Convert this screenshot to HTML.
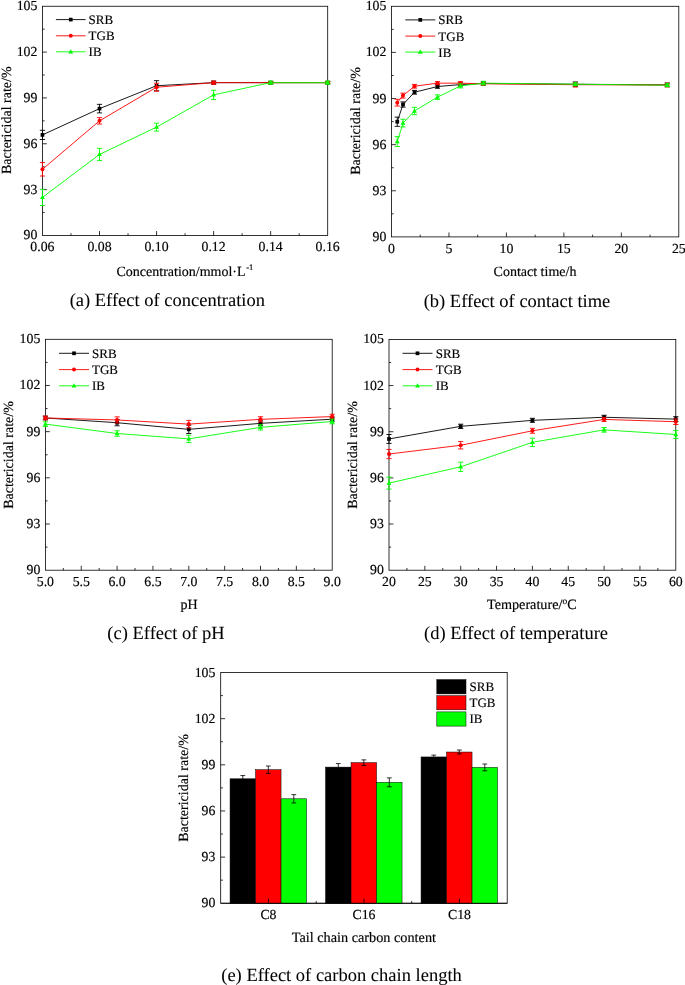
<!DOCTYPE html>
<html lang="en">
<head>
<meta charset="utf-8">
<title>Bactericidal rate figure</title>
<style>
html,body{margin:0;padding:0;background:#fff;}
body{width:685px;height:985px;overflow:hidden;}
svg{display:block;font-family:"Liberation Serif", serif;}
svg text{font-family:"Liberation Serif", serif;text-rendering:geometricPrecision;stroke:#000;stroke-width:0.16px;}
</style>
</head>
<body>
<svg width="685" height="985" viewBox="0 0 685 985">
<rect x="0" y="0" width="685" height="985" fill="#ffffff"/>
<rect x="42.45" y="6.25" width="285.25" height="229.2" fill="none" stroke="#000000" stroke-width="0.8"/>
<text x="37.35" y="239.45" font-size="13.8" text-anchor="end" fill="#000">90</text>
<line x1="42.45" y1="189.61" x2="46.85" y2="189.61" stroke="#000000" stroke-width="0.8"/>
<text x="37.35" y="193.61" font-size="13.8" text-anchor="end" fill="#000">93</text>
<line x1="42.45" y1="143.77" x2="46.85" y2="143.77" stroke="#000000" stroke-width="0.8"/>
<text x="37.35" y="147.77" font-size="13.8" text-anchor="end" fill="#000">96</text>
<line x1="42.45" y1="97.93" x2="46.85" y2="97.93" stroke="#000000" stroke-width="0.8"/>
<text x="37.35" y="101.93" font-size="13.8" text-anchor="end" fill="#000">99</text>
<line x1="42.45" y1="52.09" x2="46.85" y2="52.09" stroke="#000000" stroke-width="0.8"/>
<text x="37.35" y="56.09" font-size="13.8" text-anchor="end" fill="#000">102</text>
<text x="37.35" y="10.25" font-size="13.8" text-anchor="end" fill="#000">105</text>
<line x1="42.45" y1="212.53" x2="44.65" y2="212.53" stroke="#000000" stroke-width="0.8"/>
<line x1="42.45" y1="166.69" x2="44.65" y2="166.69" stroke="#000000" stroke-width="0.8"/>
<line x1="42.45" y1="120.85" x2="44.65" y2="120.85" stroke="#000000" stroke-width="0.8"/>
<line x1="42.45" y1="75.01" x2="44.65" y2="75.01" stroke="#000000" stroke-width="0.8"/>
<line x1="42.45" y1="29.17" x2="44.65" y2="29.17" stroke="#000000" stroke-width="0.8"/>
<line x1="99.5" y1="235.45" x2="99.5" y2="231.05" stroke="#000000" stroke-width="0.8"/>
<line x1="156.55" y1="235.45" x2="156.55" y2="231.05" stroke="#000000" stroke-width="0.8"/>
<line x1="213.6" y1="235.45" x2="213.6" y2="231.05" stroke="#000000" stroke-width="0.8"/>
<line x1="270.65" y1="235.45" x2="270.65" y2="231.05" stroke="#000000" stroke-width="0.8"/>
<line x1="70.98" y1="235.45" x2="70.98" y2="233.25" stroke="#000000" stroke-width="0.8"/>
<line x1="128.03" y1="235.45" x2="128.03" y2="233.25" stroke="#000000" stroke-width="0.8"/>
<line x1="185.07" y1="235.45" x2="185.07" y2="233.25" stroke="#000000" stroke-width="0.8"/>
<line x1="242.12" y1="235.45" x2="242.12" y2="233.25" stroke="#000000" stroke-width="0.8"/>
<line x1="299.17" y1="235.45" x2="299.17" y2="233.25" stroke="#000000" stroke-width="0.8"/>
<text x="42.45" y="251.25" font-size="13.8" text-anchor="middle" fill="#000">0.06</text>
<text x="99.5" y="251.25" font-size="13.8" text-anchor="middle" fill="#000">0.08</text>
<text x="156.55" y="251.25" font-size="13.8" text-anchor="middle" fill="#000">0.10</text>
<text x="213.6" y="251.25" font-size="13.8" text-anchor="middle" fill="#000">0.12</text>
<text x="270.65" y="251.25" font-size="13.8" text-anchor="middle" fill="#000">0.14</text>
<text x="327.7" y="251.25" font-size="13.8" text-anchor="middle" fill="#000">0.16</text>
<text transform="translate(10.6,120.2) rotate(-90)" font-size="14" text-anchor="middle" fill="#000">Bactericidal rate/%</text>
<g>
<polyline points="42.45,134.91 99.5,108.63 156.55,85.71 213.6,82.65 270.65,82.65 327.7,82.65" fill="none" stroke="#000000" stroke-width="0.9" stroke-linejoin="round"/>
<line x1="42.45" y1="130.32" x2="42.45" y2="139.49" stroke="#000000" stroke-width="0.9"/>
<line x1="39.85" y1="130.32" x2="45.05" y2="130.32" stroke="#000000" stroke-width="0.9"/>
<line x1="39.85" y1="139.49" x2="45.05" y2="139.49" stroke="#000000" stroke-width="0.9"/>
<line x1="99.5" y1="104.35" x2="99.5" y2="112.9" stroke="#000000" stroke-width="0.9"/>
<line x1="96.9" y1="104.35" x2="102.1" y2="104.35" stroke="#000000" stroke-width="0.9"/>
<line x1="96.9" y1="112.9" x2="102.1" y2="112.9" stroke="#000000" stroke-width="0.9"/>
<line x1="156.55" y1="80.66" x2="156.55" y2="90.75" stroke="#000000" stroke-width="0.9"/>
<line x1="153.95" y1="80.66" x2="159.15" y2="80.66" stroke="#000000" stroke-width="0.9"/>
<line x1="153.95" y1="90.75" x2="159.15" y2="90.75" stroke="#000000" stroke-width="0.9"/>
<line x1="213.6" y1="81.12" x2="213.6" y2="84.18" stroke="#000000" stroke-width="0.9"/>
<line x1="211" y1="81.12" x2="216.2" y2="81.12" stroke="#000000" stroke-width="0.9"/>
<line x1="211" y1="84.18" x2="216.2" y2="84.18" stroke="#000000" stroke-width="0.9"/>
<line x1="270.65" y1="81.43" x2="270.65" y2="83.87" stroke="#000000" stroke-width="0.9"/>
<line x1="268.05" y1="81.43" x2="273.25" y2="81.43" stroke="#000000" stroke-width="0.9"/>
<line x1="268.05" y1="83.87" x2="273.25" y2="83.87" stroke="#000000" stroke-width="0.9"/>
<line x1="327.7" y1="81.43" x2="327.7" y2="83.87" stroke="#000000" stroke-width="0.9"/>
<line x1="325.1" y1="81.43" x2="330.3" y2="81.43" stroke="#000000" stroke-width="0.9"/>
<line x1="325.1" y1="83.87" x2="330.3" y2="83.87" stroke="#000000" stroke-width="0.9"/>
<rect x="40.6" y="133.06" width="3.7" height="3.7" fill="#000000"/>
<rect x="97.65" y="106.78" width="3.7" height="3.7" fill="#000000"/>
<rect x="154.7" y="83.86" width="3.7" height="3.7" fill="#000000"/>
<rect x="211.75" y="80.8" width="3.7" height="3.7" fill="#000000"/>
<rect x="268.8" y="80.8" width="3.7" height="3.7" fill="#000000"/>
<rect x="325.85" y="80.8" width="3.7" height="3.7" fill="#000000"/>
<polyline points="42.45,169.29 99.5,120.85 156.55,87.23 213.6,82.65 270.65,82.65 327.7,82.65" fill="none" stroke="#ff0000" stroke-width="0.9" stroke-linejoin="round"/>
<line x1="42.45" y1="162.56" x2="42.45" y2="176.01" stroke="#ff0000" stroke-width="0.9"/>
<line x1="39.85" y1="162.56" x2="45.05" y2="162.56" stroke="#ff0000" stroke-width="0.9"/>
<line x1="39.85" y1="176.01" x2="45.05" y2="176.01" stroke="#ff0000" stroke-width="0.9"/>
<line x1="99.5" y1="117.64" x2="99.5" y2="124.06" stroke="#ff0000" stroke-width="0.9"/>
<line x1="96.9" y1="117.64" x2="102.1" y2="117.64" stroke="#ff0000" stroke-width="0.9"/>
<line x1="96.9" y1="124.06" x2="102.1" y2="124.06" stroke="#ff0000" stroke-width="0.9"/>
<line x1="156.55" y1="83.26" x2="156.55" y2="91.21" stroke="#ff0000" stroke-width="0.9"/>
<line x1="153.95" y1="83.26" x2="159.15" y2="83.26" stroke="#ff0000" stroke-width="0.9"/>
<line x1="153.95" y1="91.21" x2="159.15" y2="91.21" stroke="#ff0000" stroke-width="0.9"/>
<line x1="213.6" y1="81.12" x2="213.6" y2="84.18" stroke="#ff0000" stroke-width="0.9"/>
<line x1="211" y1="81.12" x2="216.2" y2="81.12" stroke="#ff0000" stroke-width="0.9"/>
<line x1="211" y1="84.18" x2="216.2" y2="84.18" stroke="#ff0000" stroke-width="0.9"/>
<line x1="270.65" y1="81.43" x2="270.65" y2="83.87" stroke="#ff0000" stroke-width="0.9"/>
<line x1="268.05" y1="81.43" x2="273.25" y2="81.43" stroke="#ff0000" stroke-width="0.9"/>
<line x1="268.05" y1="83.87" x2="273.25" y2="83.87" stroke="#ff0000" stroke-width="0.9"/>
<line x1="327.7" y1="81.43" x2="327.7" y2="83.87" stroke="#ff0000" stroke-width="0.9"/>
<line x1="325.1" y1="81.43" x2="330.3" y2="81.43" stroke="#ff0000" stroke-width="0.9"/>
<line x1="325.1" y1="83.87" x2="330.3" y2="83.87" stroke="#ff0000" stroke-width="0.9"/>
<circle cx="42.45" cy="169.29" r="2.0" fill="#ff0000"/>
<circle cx="99.5" cy="120.85" r="2.0" fill="#ff0000"/>
<circle cx="156.55" cy="87.23" r="2.0" fill="#ff0000"/>
<circle cx="213.6" cy="82.65" r="2.0" fill="#ff0000"/>
<circle cx="270.65" cy="82.65" r="2.0" fill="#ff0000"/>
<circle cx="327.7" cy="82.65" r="2.0" fill="#ff0000"/>
<polyline points="42.45,197.4 99.5,154.47 156.55,127.11 213.6,94.87 270.65,82.65 327.7,82.65" fill="none" stroke="#00ff00" stroke-width="0.9" stroke-linejoin="round"/>
<line x1="42.45" y1="189.3" x2="42.45" y2="205.5" stroke="#00ff00" stroke-width="0.9"/>
<line x1="39.85" y1="189.3" x2="45.05" y2="189.3" stroke="#00ff00" stroke-width="0.9"/>
<line x1="39.85" y1="205.5" x2="45.05" y2="205.5" stroke="#00ff00" stroke-width="0.9"/>
<line x1="99.5" y1="148.35" x2="99.5" y2="160.58" stroke="#00ff00" stroke-width="0.9"/>
<line x1="96.9" y1="148.35" x2="102.1" y2="148.35" stroke="#00ff00" stroke-width="0.9"/>
<line x1="96.9" y1="160.58" x2="102.1" y2="160.58" stroke="#00ff00" stroke-width="0.9"/>
<line x1="156.55" y1="123.14" x2="156.55" y2="131.09" stroke="#00ff00" stroke-width="0.9"/>
<line x1="153.95" y1="123.14" x2="159.15" y2="123.14" stroke="#00ff00" stroke-width="0.9"/>
<line x1="153.95" y1="131.09" x2="159.15" y2="131.09" stroke="#00ff00" stroke-width="0.9"/>
<line x1="213.6" y1="90.29" x2="213.6" y2="99.46" stroke="#00ff00" stroke-width="0.9"/>
<line x1="211" y1="90.29" x2="216.2" y2="90.29" stroke="#00ff00" stroke-width="0.9"/>
<line x1="211" y1="99.46" x2="216.2" y2="99.46" stroke="#00ff00" stroke-width="0.9"/>
<line x1="270.65" y1="81.12" x2="270.65" y2="84.18" stroke="#00ff00" stroke-width="0.9"/>
<line x1="268.05" y1="81.12" x2="273.25" y2="81.12" stroke="#00ff00" stroke-width="0.9"/>
<line x1="268.05" y1="84.18" x2="273.25" y2="84.18" stroke="#00ff00" stroke-width="0.9"/>
<line x1="327.7" y1="81.12" x2="327.7" y2="84.18" stroke="#00ff00" stroke-width="0.9"/>
<line x1="325.1" y1="81.12" x2="330.3" y2="81.12" stroke="#00ff00" stroke-width="0.9"/>
<line x1="325.1" y1="84.18" x2="330.3" y2="84.18" stroke="#00ff00" stroke-width="0.9"/>
<polygon points="42.45,194.75 44.9,199.05 40,199.05" fill="#00ff00"/>
<polygon points="99.5,151.82 101.95,156.12 97.05,156.12" fill="#00ff00"/>
<polygon points="156.55,124.46 159,128.76 154.1,128.76" fill="#00ff00"/>
<polygon points="213.6,92.22 216.05,96.52 211.15,96.52" fill="#00ff00"/>
<polygon points="270.65,80 273.1,84.3 268.2,84.3" fill="#00ff00"/>
<polygon points="327.7,80 330.15,84.3 325.25,84.3" fill="#00ff00"/>
</g>
<line x1="55.9" y1="19.6" x2="85.6" y2="19.6" stroke="#000000" stroke-width="0.9"/>
<rect x="68.9" y="17.75" width="3.7" height="3.7" fill="#000000"/>
<text x="88.6" y="24" font-size="13" text-anchor="start" fill="#000">SRB</text>
<line x1="55.9" y1="35.8" x2="85.6" y2="35.8" stroke="#ff0000" stroke-width="0.9"/>
<circle cx="70.75" cy="35.8" r="2.0" fill="#ff0000"/>
<text x="88.6" y="40.2" font-size="13" text-anchor="start" fill="#000">TGB</text>
<line x1="55.9" y1="51.8" x2="85.6" y2="51.8" stroke="#00ff00" stroke-width="0.9"/>
<polygon points="70.75,49.15 73.2,53.45 68.3,53.45" fill="#00ff00"/>
<text x="88.6" y="56.2" font-size="13" text-anchor="start" fill="#000">IB</text>
<text x="116.5" y="276.3" font-size="14" fill="#000">Concentration/mmol·L<tspan font-size="8.5" dy="-6" dx="0.6">-1</tspan></text>
<text x="167.3" y="306.2" font-size="18.5" text-anchor="middle" fill="#000" style="stroke-width:0.06px">(a) Effect of concentration</text>
<rect x="391.5" y="6.3" width="287.3" height="230.6" fill="none" stroke="#000000" stroke-width="0.8"/>
<text x="386.4" y="240.9" font-size="13.8" text-anchor="end" fill="#000">90</text>
<line x1="391.5" y1="190.78" x2="395.9" y2="190.78" stroke="#000000" stroke-width="0.8"/>
<text x="386.4" y="194.78" font-size="13.8" text-anchor="end" fill="#000">93</text>
<line x1="391.5" y1="144.66" x2="395.9" y2="144.66" stroke="#000000" stroke-width="0.8"/>
<text x="386.4" y="148.66" font-size="13.8" text-anchor="end" fill="#000">96</text>
<line x1="391.5" y1="98.54" x2="395.9" y2="98.54" stroke="#000000" stroke-width="0.8"/>
<text x="386.4" y="102.54" font-size="13.8" text-anchor="end" fill="#000">99</text>
<line x1="391.5" y1="52.42" x2="395.9" y2="52.42" stroke="#000000" stroke-width="0.8"/>
<text x="386.4" y="56.42" font-size="13.8" text-anchor="end" fill="#000">102</text>
<text x="386.4" y="10.3" font-size="13.8" text-anchor="end" fill="#000">105</text>
<line x1="391.5" y1="213.84" x2="393.7" y2="213.84" stroke="#000000" stroke-width="0.8"/>
<line x1="391.5" y1="167.72" x2="393.7" y2="167.72" stroke="#000000" stroke-width="0.8"/>
<line x1="391.5" y1="121.6" x2="393.7" y2="121.6" stroke="#000000" stroke-width="0.8"/>
<line x1="391.5" y1="75.48" x2="393.7" y2="75.48" stroke="#000000" stroke-width="0.8"/>
<line x1="391.5" y1="29.36" x2="393.7" y2="29.36" stroke="#000000" stroke-width="0.8"/>
<line x1="448.96" y1="236.9" x2="448.96" y2="232.5" stroke="#000000" stroke-width="0.8"/>
<line x1="506.42" y1="236.9" x2="506.42" y2="232.5" stroke="#000000" stroke-width="0.8"/>
<line x1="563.88" y1="236.9" x2="563.88" y2="232.5" stroke="#000000" stroke-width="0.8"/>
<line x1="621.34" y1="236.9" x2="621.34" y2="232.5" stroke="#000000" stroke-width="0.8"/>
<line x1="420.23" y1="236.9" x2="420.23" y2="234.7" stroke="#000000" stroke-width="0.8"/>
<line x1="477.69" y1="236.9" x2="477.69" y2="234.7" stroke="#000000" stroke-width="0.8"/>
<line x1="535.15" y1="236.9" x2="535.15" y2="234.7" stroke="#000000" stroke-width="0.8"/>
<line x1="592.61" y1="236.9" x2="592.61" y2="234.7" stroke="#000000" stroke-width="0.8"/>
<line x1="650.07" y1="236.9" x2="650.07" y2="234.7" stroke="#000000" stroke-width="0.8"/>
<text x="391.5" y="252.7" font-size="13.8" text-anchor="middle" fill="#000">0</text>
<text x="448.96" y="252.7" font-size="13.8" text-anchor="middle" fill="#000">5</text>
<text x="506.42" y="252.7" font-size="13.8" text-anchor="middle" fill="#000">10</text>
<text x="563.88" y="252.7" font-size="13.8" text-anchor="middle" fill="#000">15</text>
<text x="621.34" y="252.7" font-size="13.8" text-anchor="middle" fill="#000">20</text>
<text x="678.8" y="252.7" font-size="13.8" text-anchor="middle" fill="#000">25</text>
<text transform="translate(360,121) rotate(-90)" font-size="14" text-anchor="middle" fill="#000">Bactericidal rate/%</text>
<polyline points="397.25,121.75 402.99,104.54 414.48,92.24 437.47,86.55 460.45,84.55 483.44,83.47 575.37,84.24 667.31,84.86" fill="none" stroke="#000000" stroke-width="0.9" stroke-linejoin="round"/>
<line x1="397.25" y1="117.14" x2="397.25" y2="126.37" stroke="#000000" stroke-width="0.9"/>
<line x1="394.65" y1="117.14" x2="399.85" y2="117.14" stroke="#000000" stroke-width="0.9"/>
<line x1="394.65" y1="126.37" x2="399.85" y2="126.37" stroke="#000000" stroke-width="0.9"/>
<line x1="402.99" y1="101.92" x2="402.99" y2="107.15" stroke="#000000" stroke-width="0.9"/>
<line x1="400.39" y1="101.92" x2="405.59" y2="101.92" stroke="#000000" stroke-width="0.9"/>
<line x1="400.39" y1="107.15" x2="405.59" y2="107.15" stroke="#000000" stroke-width="0.9"/>
<line x1="414.48" y1="90.39" x2="414.48" y2="94.08" stroke="#000000" stroke-width="0.9"/>
<line x1="411.88" y1="90.39" x2="417.08" y2="90.39" stroke="#000000" stroke-width="0.9"/>
<line x1="411.88" y1="94.08" x2="417.08" y2="94.08" stroke="#000000" stroke-width="0.9"/>
<line x1="437.47" y1="84.86" x2="437.47" y2="88.24" stroke="#000000" stroke-width="0.9"/>
<line x1="434.87" y1="84.86" x2="440.07" y2="84.86" stroke="#000000" stroke-width="0.9"/>
<line x1="434.87" y1="88.24" x2="440.07" y2="88.24" stroke="#000000" stroke-width="0.9"/>
<line x1="460.45" y1="83.01" x2="460.45" y2="86.09" stroke="#000000" stroke-width="0.9"/>
<line x1="457.85" y1="83.01" x2="463.05" y2="83.01" stroke="#000000" stroke-width="0.9"/>
<line x1="457.85" y1="86.09" x2="463.05" y2="86.09" stroke="#000000" stroke-width="0.9"/>
<line x1="483.44" y1="81.94" x2="483.44" y2="85.01" stroke="#000000" stroke-width="0.9"/>
<line x1="480.84" y1="81.94" x2="486.04" y2="81.94" stroke="#000000" stroke-width="0.9"/>
<line x1="480.84" y1="85.01" x2="486.04" y2="85.01" stroke="#000000" stroke-width="0.9"/>
<line x1="575.37" y1="81.94" x2="575.37" y2="86.55" stroke="#000000" stroke-width="0.9"/>
<line x1="572.77" y1="81.94" x2="577.97" y2="81.94" stroke="#000000" stroke-width="0.9"/>
<line x1="572.77" y1="86.55" x2="577.97" y2="86.55" stroke="#000000" stroke-width="0.9"/>
<line x1="667.31" y1="83.01" x2="667.31" y2="86.7" stroke="#000000" stroke-width="0.9"/>
<line x1="664.71" y1="83.01" x2="669.91" y2="83.01" stroke="#000000" stroke-width="0.9"/>
<line x1="664.71" y1="86.7" x2="669.91" y2="86.7" stroke="#000000" stroke-width="0.9"/>
<rect x="395.4" y="119.9" width="3.7" height="3.7" fill="#000000"/>
<rect x="401.14" y="102.69" width="3.7" height="3.7" fill="#000000"/>
<rect x="412.63" y="90.39" width="3.7" height="3.7" fill="#000000"/>
<rect x="435.62" y="84.7" width="3.7" height="3.7" fill="#000000"/>
<rect x="458.6" y="82.7" width="3.7" height="3.7" fill="#000000"/>
<rect x="481.59" y="81.62" width="3.7" height="3.7" fill="#000000"/>
<rect x="573.52" y="82.39" width="3.7" height="3.7" fill="#000000"/>
<rect x="665.46" y="83.01" width="3.7" height="3.7" fill="#000000"/>
<polyline points="397.25,102.69 402.99,95.62 414.48,86.24 437.47,83.17 460.45,83.17 483.44,83.78 575.37,84.7 667.31,85.01" fill="none" stroke="#ff0000" stroke-width="0.9" stroke-linejoin="round"/>
<line x1="397.25" y1="99.31" x2="397.25" y2="106.07" stroke="#ff0000" stroke-width="0.9"/>
<line x1="394.65" y1="99.31" x2="399.85" y2="99.31" stroke="#ff0000" stroke-width="0.9"/>
<line x1="394.65" y1="106.07" x2="399.85" y2="106.07" stroke="#ff0000" stroke-width="0.9"/>
<line x1="402.99" y1="93.16" x2="402.99" y2="98.08" stroke="#ff0000" stroke-width="0.9"/>
<line x1="400.39" y1="93.16" x2="405.59" y2="93.16" stroke="#ff0000" stroke-width="0.9"/>
<line x1="400.39" y1="98.08" x2="405.59" y2="98.08" stroke="#ff0000" stroke-width="0.9"/>
<line x1="414.48" y1="84.4" x2="414.48" y2="88.09" stroke="#ff0000" stroke-width="0.9"/>
<line x1="411.88" y1="84.4" x2="417.08" y2="84.4" stroke="#ff0000" stroke-width="0.9"/>
<line x1="411.88" y1="88.09" x2="417.08" y2="88.09" stroke="#ff0000" stroke-width="0.9"/>
<line x1="437.47" y1="81.63" x2="437.47" y2="84.7" stroke="#ff0000" stroke-width="0.9"/>
<line x1="434.87" y1="81.63" x2="440.07" y2="81.63" stroke="#ff0000" stroke-width="0.9"/>
<line x1="434.87" y1="84.7" x2="440.07" y2="84.7" stroke="#ff0000" stroke-width="0.9"/>
<line x1="460.45" y1="81.63" x2="460.45" y2="84.7" stroke="#ff0000" stroke-width="0.9"/>
<line x1="457.85" y1="81.63" x2="463.05" y2="81.63" stroke="#ff0000" stroke-width="0.9"/>
<line x1="457.85" y1="84.7" x2="463.05" y2="84.7" stroke="#ff0000" stroke-width="0.9"/>
<line x1="483.44" y1="82.24" x2="483.44" y2="85.32" stroke="#ff0000" stroke-width="0.9"/>
<line x1="480.84" y1="82.24" x2="486.04" y2="82.24" stroke="#ff0000" stroke-width="0.9"/>
<line x1="480.84" y1="85.32" x2="486.04" y2="85.32" stroke="#ff0000" stroke-width="0.9"/>
<line x1="575.37" y1="82.4" x2="575.37" y2="87.01" stroke="#ff0000" stroke-width="0.9"/>
<line x1="572.77" y1="82.4" x2="577.97" y2="82.4" stroke="#ff0000" stroke-width="0.9"/>
<line x1="572.77" y1="87.01" x2="577.97" y2="87.01" stroke="#ff0000" stroke-width="0.9"/>
<line x1="667.31" y1="83.17" x2="667.31" y2="86.86" stroke="#ff0000" stroke-width="0.9"/>
<line x1="664.71" y1="83.17" x2="669.91" y2="83.17" stroke="#ff0000" stroke-width="0.9"/>
<line x1="664.71" y1="86.86" x2="669.91" y2="86.86" stroke="#ff0000" stroke-width="0.9"/>
<circle cx="397.25" cy="102.69" r="2.0" fill="#ff0000"/>
<circle cx="402.99" cy="95.62" r="2.0" fill="#ff0000"/>
<circle cx="414.48" cy="86.24" r="2.0" fill="#ff0000"/>
<circle cx="437.47" cy="83.17" r="2.0" fill="#ff0000"/>
<circle cx="460.45" cy="83.17" r="2.0" fill="#ff0000"/>
<circle cx="483.44" cy="83.78" r="2.0" fill="#ff0000"/>
<circle cx="575.37" cy="84.7" r="2.0" fill="#ff0000"/>
<circle cx="667.31" cy="85.01" r="2.0" fill="#ff0000"/>
<polyline points="397.25,141.59 402.99,123.14 414.48,110.99 437.47,97.16 460.45,85.93 483.44,83.17 575.37,84.24 667.31,85.17" fill="none" stroke="#00ff00" stroke-width="0.9" stroke-linejoin="round"/>
<line x1="397.25" y1="136.67" x2="397.25" y2="146.5" stroke="#00ff00" stroke-width="0.9"/>
<line x1="394.65" y1="136.67" x2="399.85" y2="136.67" stroke="#00ff00" stroke-width="0.9"/>
<line x1="394.65" y1="146.5" x2="399.85" y2="146.5" stroke="#00ff00" stroke-width="0.9"/>
<line x1="402.99" y1="119.29" x2="402.99" y2="126.98" stroke="#00ff00" stroke-width="0.9"/>
<line x1="400.39" y1="119.29" x2="405.59" y2="119.29" stroke="#00ff00" stroke-width="0.9"/>
<line x1="400.39" y1="126.98" x2="405.59" y2="126.98" stroke="#00ff00" stroke-width="0.9"/>
<line x1="414.48" y1="107.3" x2="414.48" y2="114.68" stroke="#00ff00" stroke-width="0.9"/>
<line x1="411.88" y1="107.3" x2="417.08" y2="107.3" stroke="#00ff00" stroke-width="0.9"/>
<line x1="411.88" y1="114.68" x2="417.08" y2="114.68" stroke="#00ff00" stroke-width="0.9"/>
<line x1="437.47" y1="94.85" x2="437.47" y2="99.46" stroke="#00ff00" stroke-width="0.9"/>
<line x1="434.87" y1="94.85" x2="440.07" y2="94.85" stroke="#00ff00" stroke-width="0.9"/>
<line x1="434.87" y1="99.46" x2="440.07" y2="99.46" stroke="#00ff00" stroke-width="0.9"/>
<line x1="460.45" y1="83.94" x2="460.45" y2="87.93" stroke="#00ff00" stroke-width="0.9"/>
<line x1="457.85" y1="83.94" x2="463.05" y2="83.94" stroke="#00ff00" stroke-width="0.9"/>
<line x1="457.85" y1="87.93" x2="463.05" y2="87.93" stroke="#00ff00" stroke-width="0.9"/>
<line x1="483.44" y1="81.32" x2="483.44" y2="85.01" stroke="#00ff00" stroke-width="0.9"/>
<line x1="480.84" y1="81.32" x2="486.04" y2="81.32" stroke="#00ff00" stroke-width="0.9"/>
<line x1="480.84" y1="85.01" x2="486.04" y2="85.01" stroke="#00ff00" stroke-width="0.9"/>
<line x1="575.37" y1="82.71" x2="575.37" y2="85.78" stroke="#00ff00" stroke-width="0.9"/>
<line x1="572.77" y1="82.71" x2="577.97" y2="82.71" stroke="#00ff00" stroke-width="0.9"/>
<line x1="572.77" y1="85.78" x2="577.97" y2="85.78" stroke="#00ff00" stroke-width="0.9"/>
<line x1="667.31" y1="83.63" x2="667.31" y2="86.7" stroke="#00ff00" stroke-width="0.9"/>
<line x1="664.71" y1="83.63" x2="669.91" y2="83.63" stroke="#00ff00" stroke-width="0.9"/>
<line x1="664.71" y1="86.7" x2="669.91" y2="86.7" stroke="#00ff00" stroke-width="0.9"/>
<polygon points="397.25,138.94 399.7,143.24 394.8,143.24" fill="#00ff00"/>
<polygon points="402.99,120.49 405.44,124.79 400.54,124.79" fill="#00ff00"/>
<polygon points="414.48,108.34 416.93,112.64 412.03,112.64" fill="#00ff00"/>
<polygon points="437.47,94.51 439.92,98.81 435.02,98.81" fill="#00ff00"/>
<polygon points="460.45,83.28 462.9,87.58 458,87.58" fill="#00ff00"/>
<polygon points="483.44,80.52 485.89,84.82 480.99,84.82" fill="#00ff00"/>
<polygon points="575.37,81.59 577.82,85.89 572.92,85.89" fill="#00ff00"/>
<polygon points="667.31,82.52 669.76,86.82 664.86,86.82" fill="#00ff00"/>
<line x1="405.3" y1="19.9" x2="435.3" y2="19.9" stroke="#000000" stroke-width="0.9"/>
<rect x="418.45" y="18.05" width="3.7" height="3.7" fill="#000000"/>
<text x="438.3" y="24.3" font-size="13" text-anchor="start" fill="#000">SRB</text>
<line x1="405.3" y1="36.1" x2="435.3" y2="36.1" stroke="#ff0000" stroke-width="0.9"/>
<circle cx="420.3" cy="36.1" r="2.0" fill="#ff0000"/>
<text x="438.3" y="40.5" font-size="13" text-anchor="start" fill="#000">TGB</text>
<line x1="405.3" y1="52.1" x2="435.3" y2="52.1" stroke="#00ff00" stroke-width="0.9"/>
<polygon points="420.3,49.45 422.75,53.75 417.85,53.75" fill="#00ff00"/>
<text x="438.3" y="56.5" font-size="13" text-anchor="start" fill="#000">IB</text>
<text x="535" y="275.9" font-size="14" text-anchor="middle" fill="#000">Contact time/h</text>
<text x="517" y="306.5" font-size="18.5" text-anchor="middle" fill="#000" style="stroke-width:0.06px">(b) Effect of contact time</text>
<rect x="45.4" y="339.3" width="286.8" height="230.9" fill="none" stroke="#000000" stroke-width="0.8"/>
<text x="40.3" y="574.2" font-size="13.8" text-anchor="end" fill="#000">90</text>
<line x1="45.4" y1="524.02" x2="49.8" y2="524.02" stroke="#000000" stroke-width="0.8"/>
<text x="40.3" y="528.02" font-size="13.8" text-anchor="end" fill="#000">93</text>
<line x1="45.4" y1="477.84" x2="49.8" y2="477.84" stroke="#000000" stroke-width="0.8"/>
<text x="40.3" y="481.84" font-size="13.8" text-anchor="end" fill="#000">96</text>
<line x1="45.4" y1="431.66" x2="49.8" y2="431.66" stroke="#000000" stroke-width="0.8"/>
<text x="40.3" y="435.66" font-size="13.8" text-anchor="end" fill="#000">99</text>
<line x1="45.4" y1="385.48" x2="49.8" y2="385.48" stroke="#000000" stroke-width="0.8"/>
<text x="40.3" y="389.48" font-size="13.8" text-anchor="end" fill="#000">102</text>
<text x="40.3" y="343.3" font-size="13.8" text-anchor="end" fill="#000">105</text>
<line x1="45.4" y1="547.11" x2="47.6" y2="547.11" stroke="#000000" stroke-width="0.8"/>
<line x1="45.4" y1="500.93" x2="47.6" y2="500.93" stroke="#000000" stroke-width="0.8"/>
<line x1="45.4" y1="454.75" x2="47.6" y2="454.75" stroke="#000000" stroke-width="0.8"/>
<line x1="45.4" y1="408.57" x2="47.6" y2="408.57" stroke="#000000" stroke-width="0.8"/>
<line x1="45.4" y1="362.39" x2="47.6" y2="362.39" stroke="#000000" stroke-width="0.8"/>
<line x1="81.25" y1="570.2" x2="81.25" y2="565.8" stroke="#000000" stroke-width="0.8"/>
<line x1="117.1" y1="570.2" x2="117.1" y2="565.8" stroke="#000000" stroke-width="0.8"/>
<line x1="152.95" y1="570.2" x2="152.95" y2="565.8" stroke="#000000" stroke-width="0.8"/>
<line x1="188.8" y1="570.2" x2="188.8" y2="565.8" stroke="#000000" stroke-width="0.8"/>
<line x1="224.65" y1="570.2" x2="224.65" y2="565.8" stroke="#000000" stroke-width="0.8"/>
<line x1="260.5" y1="570.2" x2="260.5" y2="565.8" stroke="#000000" stroke-width="0.8"/>
<line x1="296.35" y1="570.2" x2="296.35" y2="565.8" stroke="#000000" stroke-width="0.8"/>
<line x1="63.33" y1="570.2" x2="63.33" y2="568" stroke="#000000" stroke-width="0.8"/>
<line x1="99.18" y1="570.2" x2="99.18" y2="568" stroke="#000000" stroke-width="0.8"/>
<line x1="135.03" y1="570.2" x2="135.03" y2="568" stroke="#000000" stroke-width="0.8"/>
<line x1="170.88" y1="570.2" x2="170.88" y2="568" stroke="#000000" stroke-width="0.8"/>
<line x1="206.73" y1="570.2" x2="206.73" y2="568" stroke="#000000" stroke-width="0.8"/>
<line x1="242.58" y1="570.2" x2="242.58" y2="568" stroke="#000000" stroke-width="0.8"/>
<line x1="278.43" y1="570.2" x2="278.43" y2="568" stroke="#000000" stroke-width="0.8"/>
<line x1="314.27" y1="570.2" x2="314.27" y2="568" stroke="#000000" stroke-width="0.8"/>
<text x="45.4" y="586" font-size="13.8" text-anchor="middle" fill="#000">5.0</text>
<text x="81.25" y="586" font-size="13.8" text-anchor="middle" fill="#000">5.5</text>
<text x="117.1" y="586" font-size="13.8" text-anchor="middle" fill="#000">6.0</text>
<text x="152.95" y="586" font-size="13.8" text-anchor="middle" fill="#000">6.5</text>
<text x="188.8" y="586" font-size="13.8" text-anchor="middle" fill="#000">7.0</text>
<text x="224.65" y="586" font-size="13.8" text-anchor="middle" fill="#000">7.5</text>
<text x="260.5" y="586" font-size="13.8" text-anchor="middle" fill="#000">8.0</text>
<text x="296.35" y="586" font-size="13.8" text-anchor="middle" fill="#000">8.5</text>
<text x="332.2" y="586" font-size="13.8" text-anchor="middle" fill="#000">9.0</text>
<text transform="translate(13,455) rotate(-90)" font-size="14" text-anchor="middle" fill="#000">Bactericidal rate/%</text>
<polyline points="45.4,417.96 117.1,422.73 188.8,429.35 260.5,423.35 332.2,419.19" fill="none" stroke="#000000" stroke-width="0.9" stroke-linejoin="round"/>
<line x1="45.4" y1="416.11" x2="45.4" y2="419.81" stroke="#000000" stroke-width="0.9"/>
<line x1="42.8" y1="416.11" x2="48" y2="416.11" stroke="#000000" stroke-width="0.9"/>
<line x1="42.8" y1="419.81" x2="48" y2="419.81" stroke="#000000" stroke-width="0.9"/>
<line x1="117.1" y1="419.65" x2="117.1" y2="425.81" stroke="#000000" stroke-width="0.9"/>
<line x1="114.5" y1="419.65" x2="119.7" y2="419.65" stroke="#000000" stroke-width="0.9"/>
<line x1="114.5" y1="425.81" x2="119.7" y2="425.81" stroke="#000000" stroke-width="0.9"/>
<line x1="188.8" y1="425.19" x2="188.8" y2="433.51" stroke="#000000" stroke-width="0.9"/>
<line x1="186.2" y1="425.19" x2="191.4" y2="425.19" stroke="#000000" stroke-width="0.9"/>
<line x1="186.2" y1="433.51" x2="191.4" y2="433.51" stroke="#000000" stroke-width="0.9"/>
<line x1="260.5" y1="420.88" x2="260.5" y2="425.81" stroke="#000000" stroke-width="0.9"/>
<line x1="257.9" y1="420.88" x2="263.1" y2="420.88" stroke="#000000" stroke-width="0.9"/>
<line x1="257.9" y1="425.81" x2="263.1" y2="425.81" stroke="#000000" stroke-width="0.9"/>
<line x1="332.2" y1="417.19" x2="332.2" y2="421.19" stroke="#000000" stroke-width="0.9"/>
<line x1="329.6" y1="417.19" x2="334.8" y2="417.19" stroke="#000000" stroke-width="0.9"/>
<line x1="329.6" y1="421.19" x2="334.8" y2="421.19" stroke="#000000" stroke-width="0.9"/>
<rect x="43.55" y="416.11" width="3.7" height="3.7" fill="#000000"/>
<rect x="115.25" y="420.88" width="3.7" height="3.7" fill="#000000"/>
<rect x="186.95" y="427.5" width="3.7" height="3.7" fill="#000000"/>
<rect x="258.65" y="421.5" width="3.7" height="3.7" fill="#000000"/>
<rect x="330.35" y="417.34" width="3.7" height="3.7" fill="#000000"/>
<polyline points="45.4,417.96 117.1,419.96 188.8,424.12 260.5,419.35 332.2,416.57" fill="none" stroke="#ff0000" stroke-width="0.9" stroke-linejoin="round"/>
<line x1="45.4" y1="416.11" x2="45.4" y2="419.81" stroke="#ff0000" stroke-width="0.9"/>
<line x1="42.8" y1="416.11" x2="48" y2="416.11" stroke="#ff0000" stroke-width="0.9"/>
<line x1="42.8" y1="419.81" x2="48" y2="419.81" stroke="#ff0000" stroke-width="0.9"/>
<line x1="117.1" y1="416.88" x2="117.1" y2="423.04" stroke="#ff0000" stroke-width="0.9"/>
<line x1="114.5" y1="416.88" x2="119.7" y2="416.88" stroke="#ff0000" stroke-width="0.9"/>
<line x1="114.5" y1="423.04" x2="119.7" y2="423.04" stroke="#ff0000" stroke-width="0.9"/>
<line x1="188.8" y1="420.42" x2="188.8" y2="427.81" stroke="#ff0000" stroke-width="0.9"/>
<line x1="186.2" y1="420.42" x2="191.4" y2="420.42" stroke="#ff0000" stroke-width="0.9"/>
<line x1="186.2" y1="427.81" x2="191.4" y2="427.81" stroke="#ff0000" stroke-width="0.9"/>
<line x1="260.5" y1="416.73" x2="260.5" y2="421.96" stroke="#ff0000" stroke-width="0.9"/>
<line x1="257.9" y1="416.73" x2="263.1" y2="416.73" stroke="#ff0000" stroke-width="0.9"/>
<line x1="257.9" y1="421.96" x2="263.1" y2="421.96" stroke="#ff0000" stroke-width="0.9"/>
<line x1="332.2" y1="414.27" x2="332.2" y2="418.88" stroke="#ff0000" stroke-width="0.9"/>
<line x1="329.6" y1="414.27" x2="334.8" y2="414.27" stroke="#ff0000" stroke-width="0.9"/>
<line x1="329.6" y1="418.88" x2="334.8" y2="418.88" stroke="#ff0000" stroke-width="0.9"/>
<circle cx="45.4" cy="417.96" r="2.0" fill="#ff0000"/>
<circle cx="117.1" cy="419.96" r="2.0" fill="#ff0000"/>
<circle cx="188.8" cy="424.12" r="2.0" fill="#ff0000"/>
<circle cx="260.5" cy="419.35" r="2.0" fill="#ff0000"/>
<circle cx="332.2" cy="416.57" r="2.0" fill="#ff0000"/>
<polyline points="45.4,424.12 117.1,433.51 188.8,438.89 260.5,427.35 332.2,421.5" fill="none" stroke="#00ff00" stroke-width="0.9" stroke-linejoin="round"/>
<line x1="45.4" y1="421.81" x2="45.4" y2="426.43" stroke="#00ff00" stroke-width="0.9"/>
<line x1="42.8" y1="421.81" x2="48" y2="421.81" stroke="#00ff00" stroke-width="0.9"/>
<line x1="42.8" y1="426.43" x2="48" y2="426.43" stroke="#00ff00" stroke-width="0.9"/>
<line x1="117.1" y1="430.74" x2="117.1" y2="436.28" stroke="#00ff00" stroke-width="0.9"/>
<line x1="114.5" y1="430.74" x2="119.7" y2="430.74" stroke="#00ff00" stroke-width="0.9"/>
<line x1="114.5" y1="436.28" x2="119.7" y2="436.28" stroke="#00ff00" stroke-width="0.9"/>
<line x1="188.8" y1="435.2" x2="188.8" y2="442.59" stroke="#00ff00" stroke-width="0.9"/>
<line x1="186.2" y1="435.2" x2="191.4" y2="435.2" stroke="#00ff00" stroke-width="0.9"/>
<line x1="186.2" y1="442.59" x2="191.4" y2="442.59" stroke="#00ff00" stroke-width="0.9"/>
<line x1="260.5" y1="424.73" x2="260.5" y2="429.97" stroke="#00ff00" stroke-width="0.9"/>
<line x1="257.9" y1="424.73" x2="263.1" y2="424.73" stroke="#00ff00" stroke-width="0.9"/>
<line x1="257.9" y1="429.97" x2="263.1" y2="429.97" stroke="#00ff00" stroke-width="0.9"/>
<line x1="332.2" y1="419.19" x2="332.2" y2="423.81" stroke="#00ff00" stroke-width="0.9"/>
<line x1="329.6" y1="419.19" x2="334.8" y2="419.19" stroke="#00ff00" stroke-width="0.9"/>
<line x1="329.6" y1="423.81" x2="334.8" y2="423.81" stroke="#00ff00" stroke-width="0.9"/>
<polygon points="45.4,421.47 47.85,425.77 42.95,425.77" fill="#00ff00"/>
<polygon points="117.1,430.86 119.55,435.16 114.65,435.16" fill="#00ff00"/>
<polygon points="188.8,436.24 191.25,440.54 186.35,440.54" fill="#00ff00"/>
<polygon points="260.5,424.7 262.95,429 258.05,429" fill="#00ff00"/>
<polygon points="332.2,418.85 334.65,423.15 329.75,423.15" fill="#00ff00"/>
<line x1="59" y1="353.3" x2="89" y2="353.3" stroke="#000000" stroke-width="0.9"/>
<rect x="72.15" y="351.45" width="3.7" height="3.7" fill="#000000"/>
<text x="92" y="357.7" font-size="13" text-anchor="start" fill="#000">SRB</text>
<line x1="59" y1="369.6" x2="89" y2="369.6" stroke="#ff0000" stroke-width="0.9"/>
<circle cx="74" cy="369.6" r="2.0" fill="#ff0000"/>
<text x="92" y="374" font-size="13" text-anchor="start" fill="#000">TGB</text>
<line x1="59" y1="385.8" x2="89" y2="385.8" stroke="#00ff00" stroke-width="0.9"/>
<polygon points="74,383.15 76.45,387.45 71.55,387.45" fill="#00ff00"/>
<text x="92" y="390.2" font-size="13" text-anchor="start" fill="#000">IB</text>
<text x="189" y="609" font-size="14" text-anchor="middle" fill="#000">pH</text>
<text x="166" y="639.1" font-size="18.5" text-anchor="middle" fill="#000" style="stroke-width:0.06px">(c) Effect of pH</text>
<rect x="389" y="339.4" width="286.8" height="230.8" fill="none" stroke="#000000" stroke-width="0.8"/>
<text x="383.9" y="574.2" font-size="13.8" text-anchor="end" fill="#000">90</text>
<line x1="389" y1="524.04" x2="393.4" y2="524.04" stroke="#000000" stroke-width="0.8"/>
<text x="383.9" y="528.04" font-size="13.8" text-anchor="end" fill="#000">93</text>
<line x1="389" y1="477.88" x2="393.4" y2="477.88" stroke="#000000" stroke-width="0.8"/>
<text x="383.9" y="481.88" font-size="13.8" text-anchor="end" fill="#000">96</text>
<line x1="389" y1="431.72" x2="393.4" y2="431.72" stroke="#000000" stroke-width="0.8"/>
<text x="383.9" y="435.72" font-size="13.8" text-anchor="end" fill="#000">99</text>
<line x1="389" y1="385.56" x2="393.4" y2="385.56" stroke="#000000" stroke-width="0.8"/>
<text x="383.9" y="389.56" font-size="13.8" text-anchor="end" fill="#000">102</text>
<text x="383.9" y="343.4" font-size="13.8" text-anchor="end" fill="#000">105</text>
<line x1="389" y1="547.12" x2="391.2" y2="547.12" stroke="#000000" stroke-width="0.8"/>
<line x1="389" y1="500.96" x2="391.2" y2="500.96" stroke="#000000" stroke-width="0.8"/>
<line x1="389" y1="454.8" x2="391.2" y2="454.8" stroke="#000000" stroke-width="0.8"/>
<line x1="389" y1="408.64" x2="391.2" y2="408.64" stroke="#000000" stroke-width="0.8"/>
<line x1="389" y1="362.48" x2="391.2" y2="362.48" stroke="#000000" stroke-width="0.8"/>
<line x1="424.85" y1="570.2" x2="424.85" y2="565.8" stroke="#000000" stroke-width="0.8"/>
<line x1="460.7" y1="570.2" x2="460.7" y2="565.8" stroke="#000000" stroke-width="0.8"/>
<line x1="496.55" y1="570.2" x2="496.55" y2="565.8" stroke="#000000" stroke-width="0.8"/>
<line x1="532.4" y1="570.2" x2="532.4" y2="565.8" stroke="#000000" stroke-width="0.8"/>
<line x1="568.25" y1="570.2" x2="568.25" y2="565.8" stroke="#000000" stroke-width="0.8"/>
<line x1="604.1" y1="570.2" x2="604.1" y2="565.8" stroke="#000000" stroke-width="0.8"/>
<line x1="639.95" y1="570.2" x2="639.95" y2="565.8" stroke="#000000" stroke-width="0.8"/>
<line x1="406.93" y1="570.2" x2="406.93" y2="568" stroke="#000000" stroke-width="0.8"/>
<line x1="442.77" y1="570.2" x2="442.77" y2="568" stroke="#000000" stroke-width="0.8"/>
<line x1="478.62" y1="570.2" x2="478.62" y2="568" stroke="#000000" stroke-width="0.8"/>
<line x1="514.48" y1="570.2" x2="514.48" y2="568" stroke="#000000" stroke-width="0.8"/>
<line x1="550.33" y1="570.2" x2="550.33" y2="568" stroke="#000000" stroke-width="0.8"/>
<line x1="586.17" y1="570.2" x2="586.17" y2="568" stroke="#000000" stroke-width="0.8"/>
<line x1="622.02" y1="570.2" x2="622.02" y2="568" stroke="#000000" stroke-width="0.8"/>
<line x1="657.88" y1="570.2" x2="657.88" y2="568" stroke="#000000" stroke-width="0.8"/>
<text x="389" y="586" font-size="13.8" text-anchor="middle" fill="#000">20</text>
<text x="424.85" y="586" font-size="13.8" text-anchor="middle" fill="#000">25</text>
<text x="460.7" y="586" font-size="13.8" text-anchor="middle" fill="#000">30</text>
<text x="496.55" y="586" font-size="13.8" text-anchor="middle" fill="#000">35</text>
<text x="532.4" y="586" font-size="13.8" text-anchor="middle" fill="#000">40</text>
<text x="568.25" y="586" font-size="13.8" text-anchor="middle" fill="#000">45</text>
<text x="604.1" y="586" font-size="13.8" text-anchor="middle" fill="#000">50</text>
<text x="639.95" y="586" font-size="13.8" text-anchor="middle" fill="#000">55</text>
<text x="675.8" y="586" font-size="13.8" text-anchor="middle" fill="#000">60</text>
<text transform="translate(357,455) rotate(-90)" font-size="14" text-anchor="middle" fill="#000">Bactericidal rate/%</text>
<polyline points="389,438.95 460.7,426.33 532.4,420.33 604.1,417.26 675.8,419.1" fill="none" stroke="#000000" stroke-width="0.9" stroke-linejoin="round"/>
<line x1="389" y1="434.49" x2="389" y2="443.41" stroke="#000000" stroke-width="0.9"/>
<line x1="386.4" y1="434.49" x2="391.6" y2="434.49" stroke="#000000" stroke-width="0.9"/>
<line x1="386.4" y1="443.41" x2="391.6" y2="443.41" stroke="#000000" stroke-width="0.9"/>
<line x1="460.7" y1="424.18" x2="460.7" y2="428.49" stroke="#000000" stroke-width="0.9"/>
<line x1="458.1" y1="424.18" x2="463.3" y2="424.18" stroke="#000000" stroke-width="0.9"/>
<line x1="458.1" y1="428.49" x2="463.3" y2="428.49" stroke="#000000" stroke-width="0.9"/>
<line x1="532.4" y1="418.33" x2="532.4" y2="422.33" stroke="#000000" stroke-width="0.9"/>
<line x1="529.8" y1="418.33" x2="535" y2="418.33" stroke="#000000" stroke-width="0.9"/>
<line x1="529.8" y1="422.33" x2="535" y2="422.33" stroke="#000000" stroke-width="0.9"/>
<line x1="604.1" y1="415.26" x2="604.1" y2="419.26" stroke="#000000" stroke-width="0.9"/>
<line x1="601.5" y1="415.26" x2="606.7" y2="415.26" stroke="#000000" stroke-width="0.9"/>
<line x1="601.5" y1="419.26" x2="606.7" y2="419.26" stroke="#000000" stroke-width="0.9"/>
<line x1="675.8" y1="416.64" x2="675.8" y2="421.56" stroke="#000000" stroke-width="0.9"/>
<line x1="673.2" y1="416.64" x2="678.4" y2="416.64" stroke="#000000" stroke-width="0.9"/>
<line x1="673.2" y1="421.56" x2="678.4" y2="421.56" stroke="#000000" stroke-width="0.9"/>
<rect x="387.15" y="437.1" width="3.7" height="3.7" fill="#000000"/>
<rect x="458.85" y="424.48" width="3.7" height="3.7" fill="#000000"/>
<rect x="530.55" y="418.48" width="3.7" height="3.7" fill="#000000"/>
<rect x="602.25" y="415.41" width="3.7" height="3.7" fill="#000000"/>
<rect x="673.95" y="417.25" width="3.7" height="3.7" fill="#000000"/>
<polyline points="389,454.03 460.7,445.26 532.4,430.8 604.1,419.41 675.8,421.72" fill="none" stroke="#ff0000" stroke-width="0.9" stroke-linejoin="round"/>
<line x1="389" y1="449.41" x2="389" y2="458.65" stroke="#ff0000" stroke-width="0.9"/>
<line x1="386.4" y1="449.41" x2="391.6" y2="449.41" stroke="#ff0000" stroke-width="0.9"/>
<line x1="386.4" y1="458.65" x2="391.6" y2="458.65" stroke="#ff0000" stroke-width="0.9"/>
<line x1="460.7" y1="441.57" x2="460.7" y2="448.95" stroke="#ff0000" stroke-width="0.9"/>
<line x1="458.1" y1="441.57" x2="463.3" y2="441.57" stroke="#ff0000" stroke-width="0.9"/>
<line x1="458.1" y1="448.95" x2="463.3" y2="448.95" stroke="#ff0000" stroke-width="0.9"/>
<line x1="532.4" y1="428.33" x2="532.4" y2="433.26" stroke="#ff0000" stroke-width="0.9"/>
<line x1="529.8" y1="428.33" x2="535" y2="428.33" stroke="#ff0000" stroke-width="0.9"/>
<line x1="529.8" y1="433.26" x2="535" y2="433.26" stroke="#ff0000" stroke-width="0.9"/>
<line x1="604.1" y1="417.41" x2="604.1" y2="421.41" stroke="#ff0000" stroke-width="0.9"/>
<line x1="601.5" y1="417.41" x2="606.7" y2="417.41" stroke="#ff0000" stroke-width="0.9"/>
<line x1="601.5" y1="421.41" x2="606.7" y2="421.41" stroke="#ff0000" stroke-width="0.9"/>
<line x1="675.8" y1="418.95" x2="675.8" y2="424.49" stroke="#ff0000" stroke-width="0.9"/>
<line x1="673.2" y1="418.95" x2="678.4" y2="418.95" stroke="#ff0000" stroke-width="0.9"/>
<line x1="673.2" y1="424.49" x2="678.4" y2="424.49" stroke="#ff0000" stroke-width="0.9"/>
<circle cx="389" cy="454.03" r="2.0" fill="#ff0000"/>
<circle cx="460.7" cy="445.26" r="2.0" fill="#ff0000"/>
<circle cx="532.4" cy="430.8" r="2.0" fill="#ff0000"/>
<circle cx="604.1" cy="419.41" r="2.0" fill="#ff0000"/>
<circle cx="675.8" cy="421.72" r="2.0" fill="#ff0000"/>
<polyline points="389,483.11 460.7,466.8 532.4,442.34 604.1,429.87 675.8,434.49" fill="none" stroke="#00ff00" stroke-width="0.9" stroke-linejoin="round"/>
<line x1="389" y1="477.11" x2="389" y2="489.11" stroke="#00ff00" stroke-width="0.9"/>
<line x1="386.4" y1="477.11" x2="391.6" y2="477.11" stroke="#00ff00" stroke-width="0.9"/>
<line x1="386.4" y1="489.11" x2="391.6" y2="489.11" stroke="#00ff00" stroke-width="0.9"/>
<line x1="460.7" y1="462.19" x2="460.7" y2="471.42" stroke="#00ff00" stroke-width="0.9"/>
<line x1="458.1" y1="462.19" x2="463.3" y2="462.19" stroke="#00ff00" stroke-width="0.9"/>
<line x1="458.1" y1="471.42" x2="463.3" y2="471.42" stroke="#00ff00" stroke-width="0.9"/>
<line x1="532.4" y1="438.18" x2="532.4" y2="446.49" stroke="#00ff00" stroke-width="0.9"/>
<line x1="529.8" y1="438.18" x2="535" y2="438.18" stroke="#00ff00" stroke-width="0.9"/>
<line x1="529.8" y1="446.49" x2="535" y2="446.49" stroke="#00ff00" stroke-width="0.9"/>
<line x1="604.1" y1="427.57" x2="604.1" y2="432.18" stroke="#00ff00" stroke-width="0.9"/>
<line x1="601.5" y1="427.57" x2="606.7" y2="427.57" stroke="#00ff00" stroke-width="0.9"/>
<line x1="601.5" y1="432.18" x2="606.7" y2="432.18" stroke="#00ff00" stroke-width="0.9"/>
<line x1="675.8" y1="430.49" x2="675.8" y2="438.49" stroke="#00ff00" stroke-width="0.9"/>
<line x1="673.2" y1="430.49" x2="678.4" y2="430.49" stroke="#00ff00" stroke-width="0.9"/>
<line x1="673.2" y1="438.49" x2="678.4" y2="438.49" stroke="#00ff00" stroke-width="0.9"/>
<polygon points="389,480.46 391.45,484.76 386.55,484.76" fill="#00ff00"/>
<polygon points="460.7,464.15 463.15,468.45 458.25,468.45" fill="#00ff00"/>
<polygon points="532.4,439.69 534.85,443.99 529.95,443.99" fill="#00ff00"/>
<polygon points="604.1,427.22 606.55,431.52 601.65,431.52" fill="#00ff00"/>
<polygon points="675.8,431.84 678.25,436.14 673.35,436.14" fill="#00ff00"/>
<line x1="402.5" y1="353.3" x2="432.5" y2="353.3" stroke="#000000" stroke-width="0.9"/>
<rect x="415.65" y="351.45" width="3.7" height="3.7" fill="#000000"/>
<text x="435.7" y="357.7" font-size="13" text-anchor="start" fill="#000">SRB</text>
<line x1="402.5" y1="369.6" x2="432.5" y2="369.6" stroke="#ff0000" stroke-width="0.9"/>
<circle cx="417.5" cy="369.6" r="2.0" fill="#ff0000"/>
<text x="435.7" y="374" font-size="13" text-anchor="start" fill="#000">TGB</text>
<line x1="402.5" y1="385.8" x2="432.5" y2="385.8" stroke="#00ff00" stroke-width="0.9"/>
<polygon points="417.5,383.15 419.95,387.45 415.05,387.45" fill="#00ff00"/>
<text x="435.7" y="390.2" font-size="13" text-anchor="start" fill="#000">IB</text>
<text x="487" y="609.3" font-size="14.2" fill="#000">Temperature/<tspan font-size="9.5" dy="-5.2">o</tspan><tspan dy="5.2">C</tspan></text>
<text x="516" y="638.9" font-size="18.5" text-anchor="middle" fill="#000" style="stroke-width:0.06px">(d) Effect of temperature</text>
<rect x="220.7" y="672.5" width="286.5" height="230.75" fill="none" stroke="#000000" stroke-width="0.8"/>
<rect x="230.05" y="778.8" width="25.5" height="124.45" fill="#000000" stroke="#000" stroke-width="0.5"/>
<rect x="255.55" y="769.72" width="25.5" height="133.53" fill="#ff0000" stroke="#000" stroke-width="0.5"/>
<rect x="281.05" y="798.8" width="25.5" height="104.45" fill="#00ff00" stroke="#000" stroke-width="0.5"/>
<line x1="242.8" y1="775.57" x2="242.8" y2="782.03" stroke="#000" stroke-width="0.8"/>
<line x1="240.4" y1="775.57" x2="245.2" y2="775.57" stroke="#000" stroke-width="0.8"/>
<line x1="240.4" y1="782.03" x2="245.2" y2="782.03" stroke="#000" stroke-width="0.8"/>
<line x1="268.3" y1="766.03" x2="268.3" y2="773.41" stroke="#000" stroke-width="0.8"/>
<line x1="265.9" y1="766.03" x2="270.7" y2="766.03" stroke="#000" stroke-width="0.8"/>
<line x1="265.9" y1="773.41" x2="270.7" y2="773.41" stroke="#000" stroke-width="0.8"/>
<line x1="293.8" y1="794.64" x2="293.8" y2="802.95" stroke="#000" stroke-width="0.8"/>
<line x1="291.4" y1="794.64" x2="296.2" y2="794.64" stroke="#000" stroke-width="0.8"/>
<line x1="291.4" y1="802.95" x2="296.2" y2="802.95" stroke="#000" stroke-width="0.8"/>
<rect x="325.55" y="767.11" width="25.5" height="136.14" fill="#000000" stroke="#000" stroke-width="0.5"/>
<rect x="351.05" y="762.65" width="25.5" height="140.6" fill="#ff0000" stroke="#000" stroke-width="0.5"/>
<rect x="376.55" y="782.34" width="25.5" height="120.91" fill="#00ff00" stroke="#000" stroke-width="0.5"/>
<line x1="338.3" y1="763.57" x2="338.3" y2="770.65" stroke="#000" stroke-width="0.8"/>
<line x1="335.9" y1="763.57" x2="340.7" y2="763.57" stroke="#000" stroke-width="0.8"/>
<line x1="335.9" y1="770.65" x2="340.7" y2="770.65" stroke="#000" stroke-width="0.8"/>
<line x1="363.8" y1="759.88" x2="363.8" y2="765.42" stroke="#000" stroke-width="0.8"/>
<line x1="361.4" y1="759.88" x2="366.2" y2="759.88" stroke="#000" stroke-width="0.8"/>
<line x1="361.4" y1="765.42" x2="366.2" y2="765.42" stroke="#000" stroke-width="0.8"/>
<line x1="389.3" y1="777.88" x2="389.3" y2="786.8" stroke="#000" stroke-width="0.8"/>
<line x1="386.9" y1="777.88" x2="391.7" y2="777.88" stroke="#000" stroke-width="0.8"/>
<line x1="386.9" y1="786.8" x2="391.7" y2="786.8" stroke="#000" stroke-width="0.8"/>
<rect x="421.05" y="756.95" width="25.5" height="146.3" fill="#000000" stroke="#000" stroke-width="0.5"/>
<rect x="446.55" y="752.03" width="25.5" height="151.22" fill="#ff0000" stroke="#000" stroke-width="0.5"/>
<rect x="472.05" y="767.42" width="25.5" height="135.83" fill="#00ff00" stroke="#000" stroke-width="0.5"/>
<line x1="433.8" y1="755.11" x2="433.8" y2="758.8" stroke="#000" stroke-width="0.8"/>
<line x1="431.4" y1="755.11" x2="436.2" y2="755.11" stroke="#000" stroke-width="0.8"/>
<line x1="431.4" y1="758.8" x2="436.2" y2="758.8" stroke="#000" stroke-width="0.8"/>
<line x1="459.3" y1="750.03" x2="459.3" y2="754.03" stroke="#000" stroke-width="0.8"/>
<line x1="456.9" y1="750.03" x2="461.7" y2="750.03" stroke="#000" stroke-width="0.8"/>
<line x1="456.9" y1="754.03" x2="461.7" y2="754.03" stroke="#000" stroke-width="0.8"/>
<line x1="484.8" y1="764.03" x2="484.8" y2="770.8" stroke="#000" stroke-width="0.8"/>
<line x1="482.4" y1="764.03" x2="487.2" y2="764.03" stroke="#000" stroke-width="0.8"/>
<line x1="482.4" y1="770.8" x2="487.2" y2="770.8" stroke="#000" stroke-width="0.8"/>
<line x1="220.7" y1="857.1" x2="225.1" y2="857.1" stroke="#000000" stroke-width="0.8"/>
<line x1="220.7" y1="810.95" x2="225.1" y2="810.95" stroke="#000000" stroke-width="0.8"/>
<line x1="220.7" y1="764.8" x2="225.1" y2="764.8" stroke="#000000" stroke-width="0.8"/>
<line x1="220.7" y1="718.65" x2="225.1" y2="718.65" stroke="#000000" stroke-width="0.8"/>
<line x1="220.7" y1="880.17" x2="222.9" y2="880.17" stroke="#000000" stroke-width="0.8"/>
<line x1="220.7" y1="834.02" x2="222.9" y2="834.02" stroke="#000000" stroke-width="0.8"/>
<line x1="220.7" y1="787.88" x2="222.9" y2="787.88" stroke="#000000" stroke-width="0.8"/>
<line x1="220.7" y1="741.73" x2="222.9" y2="741.73" stroke="#000000" stroke-width="0.8"/>
<line x1="220.7" y1="695.58" x2="222.9" y2="695.58" stroke="#000000" stroke-width="0.8"/>
<text x="215.4" y="907.25" font-size="13.8" text-anchor="end" fill="#000">90</text>
<text x="215.4" y="861.1" font-size="13.8" text-anchor="end" fill="#000">93</text>
<text x="215.4" y="814.95" font-size="13.8" text-anchor="end" fill="#000">96</text>
<text x="215.4" y="768.8" font-size="13.8" text-anchor="end" fill="#000">99</text>
<text x="215.4" y="722.65" font-size="13.8" text-anchor="end" fill="#000">102</text>
<text x="215.4" y="676.5" font-size="13.8" text-anchor="end" fill="#000">105</text>
<line x1="268.45" y1="903.25" x2="268.45" y2="898.85" stroke="#000000" stroke-width="0.8"/>
<text x="268.45" y="919.15" font-size="13.8" text-anchor="middle" fill="#000">C8</text>
<line x1="363.95" y1="903.25" x2="363.95" y2="898.85" stroke="#000000" stroke-width="0.8"/>
<text x="363.95" y="919.15" font-size="13.8" text-anchor="middle" fill="#000">C16</text>
<line x1="459.45" y1="903.25" x2="459.45" y2="898.85" stroke="#000000" stroke-width="0.8"/>
<text x="459.45" y="919.15" font-size="13.8" text-anchor="middle" fill="#000">C18</text>
<line x1="316.2" y1="903.25" x2="316.2" y2="901.05" stroke="#000000" stroke-width="0.8"/>
<line x1="411.7" y1="903.25" x2="411.7" y2="901.05" stroke="#000000" stroke-width="0.8"/>
<line x1="220.7" y1="903.25" x2="507.2" y2="903.25" stroke="#000000" stroke-width="0.8"/>
<text transform="translate(188.4,788) rotate(-90)" font-size="14" text-anchor="middle" fill="#000">Bactericidal rate/%</text>
<rect x="436.8" y="679.6" width="29.2" height="14.3" fill="#000000" stroke="#000" stroke-width="0.5"/>
<text x="469.5" y="690.9" font-size="13" text-anchor="start" fill="#000">SRB</text>
<rect x="436.8" y="695.7" width="29.2" height="14.1" fill="#ff0000" stroke="#000" stroke-width="0.5"/>
<text x="469.5" y="707.3" font-size="13" text-anchor="start" fill="#000">TGB</text>
<rect x="436.8" y="711.9" width="29.2" height="14.2" fill="#00ff00" stroke="#000" stroke-width="0.5"/>
<text x="469.5" y="723" font-size="13" text-anchor="start" fill="#000">IB</text>
<text x="363.9" y="942.1" font-size="14.25" text-anchor="middle" fill="#000">Tail chain carbon content</text>
<text x="341.5" y="981" font-size="18.5" text-anchor="middle" fill="#000" style="stroke-width:0.06px">(e) Effect of carbon chain length</text>
</svg>
</body>
</html>
